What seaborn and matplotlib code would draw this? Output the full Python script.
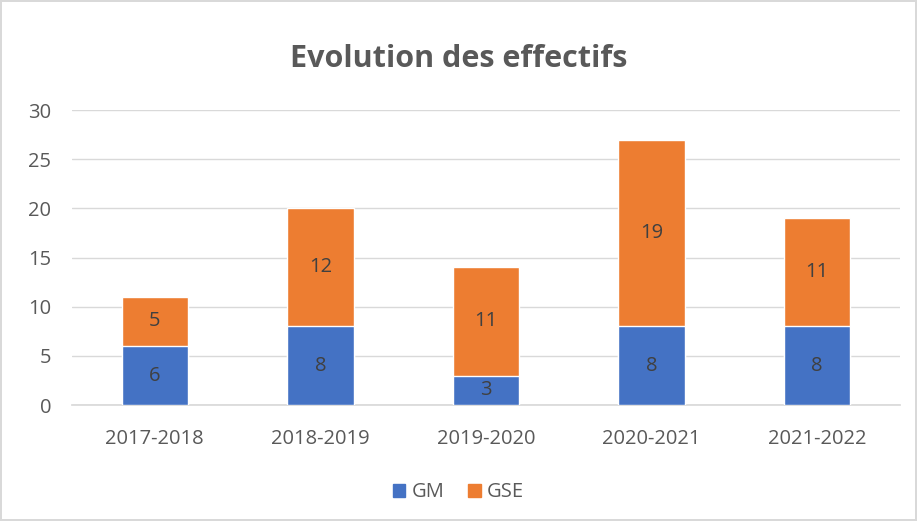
import matplotlib
matplotlib.use("Agg")
import matplotlib.pyplot as plt
import seaborn as sns
import pandas as pd
from matplotlib.patches import Patch

# Data
years = ["2017-2018", "2018-2019", "2019-2020", "2020-2021", "2021-2022"]
gm = [6, 8, 3, 8, 8]
gse = [5, 12, 11, 19, 11]

blue = "#4472C4"
orange = "#ED7D31"
grey = "#595959"

df = pd.DataFrame({"year": years, "GM": gm, "GSE": gse})
df["total"] = df["GM"] + df["GSE"]

sns.set_theme(style="white")
plt.rcParams["font.family"] = ["Open Sans", "DejaVu Sans"]

fig = plt.figure(figsize=(9.17, 5.21), dpi=100)
fig.patch.set_edgecolor("#D9D9D9")
fig.patch.set_linewidth(1.5)
ax = fig.add_axes([0.0785, 0.2226, 0.903, 0.566])

# stacked bars: total in orange, GM overlaid in blue
sns.barplot(data=df, x="year", y="total", color=orange, width=0.4,
            saturation=1, ax=ax, zorder=2)
sns.barplot(data=df, x="year", y="GM", color=blue, width=0.4,
            saturation=1, ax=ax, zorder=3)

# data labels
for i, row in df.iterrows():
    ax.text(i, row["GM"] / 2, str(row["GM"]), ha="center", va="center",
            fontsize=14.5, color="#404040", zorder=4)
    ax.text(i, row["GM"] + row["GSE"] / 2, str(row["GSE"]), ha="center",
            va="center", fontsize=14.5, color="#404040", zorder=4)

ax.set_ylim(0, 30)
ax.set_yticks(range(0, 31, 5))
ax.set_xlim(-0.5, 4.5)
ax.yaxis.grid(True, color="#D9D9D9", linewidth=1)
ax.set_axisbelow(True)
for s in ["top", "right", "left"]:
    ax.spines[s].set_visible(False)
ax.spines["bottom"].set_color("#D9D9D9")
ax.set_xlabel("")
ax.set_ylabel("")
ax.tick_params(axis="both", colors=grey, labelsize=14.5, length=0)
ax.tick_params(axis="y", pad=15)
ax.tick_params(axis="x", pad=17)

fig.suptitle("Evolution des effectifs", x=0.5, y=0.915, fontsize=22,
             fontweight="bold", color=grey)

handles = [Patch(color=blue, label="GM"), Patch(color=orange, label="GSE")]
fig.legend(handles=handles, loc="center", bbox_to_anchor=(0.5, 0.055),
           ncol=2, frameon=False, fontsize=14.5, labelcolor=grey,
           handlelength=0.6, handleheight=0.6, handletextpad=0.3,
           columnspacing=1.2)

fig.savefig("out.png", dpi=100)
